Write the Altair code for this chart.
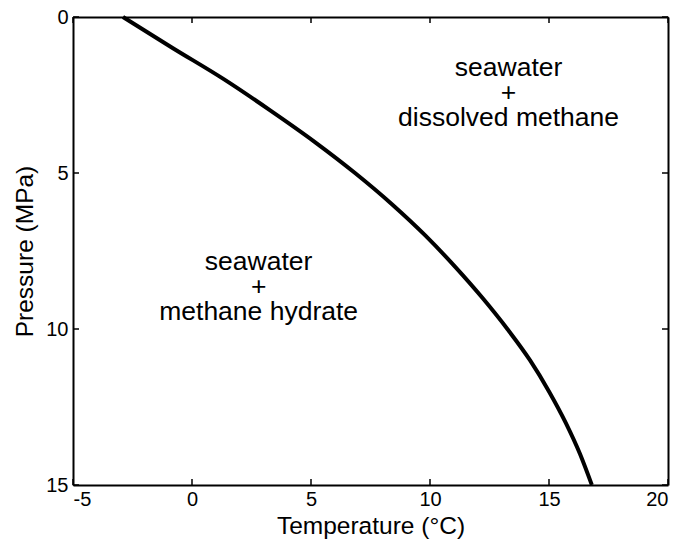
import altair as alt
import pandas as pd

# Hydrate stability boundary
pressure_mpa = [0, 1, 2, 3, 4, 5, 6, 7, 8, 9, 10, 11, 12, 13, 14, 15]
temperature_c = [-2.9, -0.8, 1.35, 3.3, 5.15, 6.85, 8.4, 9.8, 11.05, 12.2, 13.25, 14.2, 15.0, 15.7, 16.3, 16.8]

x_ticks = [-5, 0, 5, 10, 15, 20]
y_ticks = [0, 5, 10, 15]

label_text = ["seawater", "+", "dissolved methane", "seawater", "+", "methane hydrate"]
label_t = [13.3, 13.3, 13.3, 2.8, 2.8, 2.8]
label_p = [1.65, 2.45, 3.25, 7.85, 8.65, 9.45]

curve = pd.DataFrame({"T": temperature_c, "P": pressure_mpa})
labels = pd.DataFrame({"text": label_text, "T": label_t, "P": label_p})
xt = pd.DataFrame({"v": x_ticks})
yt = pd.DataFrame({"v": y_ticks})

FONT = "Liberation Sans"
W, H, TICK = 595, 468, 6
xscale = alt.Scale(domain=[-5, 20], nice=False, zero=False)
yscale = alt.Scale(domain=[0, 15], reverse=True, nice=False, zero=False)

common_axis = dict(
    domain=True, domainColor="black", domainWidth=2, grid=False, ticks=False,
    labelFont=FONT, titleFont=FONT, labelColor="black", titleColor="black",
    titleFontWeight="normal", labelExpr="'' + datum.value",
)

x_bottom = alt.Axis(**common_axis, values=x_ticks, orient="bottom",
                    title="Temperature (°C)", labelFontSize=20, titleFontSize=24.5,
                    labelPadding=4, titlePadding=5)
y_left = alt.Axis(**common_axis, values=y_ticks, orient="left",
                  title="Pressure (MPa)", labelFontSize=20, titleFontSize=24.5,
                  labelPadding=5, titlePadding=8, labelBaseline="middle")
x_top = alt.Axis(**common_axis, values=x_ticks, orient="top", labels=False, title=None)
y_right = alt.Axis(**common_axis, values=y_ticks, orient="right", labels=False, title=None)

line = alt.Chart(curve).mark_line(color="black", strokeWidth=4, interpolate="monotone").encode(
    x=alt.X("T:Q", scale=xscale, axis=x_bottom),
    y=alt.Y("P:Q", scale=yscale, axis=y_left),
    order="P:Q",
)

frame = alt.Chart(curve).mark_point(opacity=0).encode(
    x=alt.X("T:Q", scale=xscale, axis=x_top),
    y=alt.Y("P:Q", scale=yscale, axis=y_right),
)

tick_style = dict(color="black", strokeWidth=1.5)
top_ticks = alt.Chart(xt).mark_rule(**tick_style).encode(
    x=alt.X("v:Q", scale=xscale, axis=None), y=alt.value(0), y2=alt.value(TICK))
bottom_ticks = alt.Chart(xt).mark_rule(**tick_style).encode(
    x=alt.X("v:Q", scale=xscale, axis=None), y=alt.value(H), y2=alt.value(H - TICK))
left_ticks = alt.Chart(yt).mark_rule(**tick_style).encode(
    y=alt.Y("v:Q", scale=yscale, axis=None), x=alt.value(0), x2=alt.value(TICK))
right_ticks = alt.Chart(yt).mark_rule(**tick_style).encode(
    y=alt.Y("v:Q", scale=yscale, axis=None), x=alt.value(W), x2=alt.value(W - TICK))

text = alt.Chart(labels).mark_text(font=FONT, fontSize=26.5, color="black",
                                   align="center", baseline="middle").encode(
    x=alt.X("T:Q", scale=xscale, axis=None),
    y=alt.Y("P:Q", scale=yscale, axis=None),
    text="text:N",
)

chart = alt.layer(
    line, frame, top_ticks, bottom_ticks, left_ticks, right_ticks, text
).resolve_axis(
    x="independent", y="independent"
).properties(
    width=W, height=H,
    autosize=alt.AutoSizeParams(type="none"),
    padding={"left": 65, "top": 9, "right": 7, "bottom": 55},
).configure_view(
    stroke=None, fill="white"
).configure(background="white")

chart.save("out.html", embed_options={"renderer": "svg", "actions": False})
